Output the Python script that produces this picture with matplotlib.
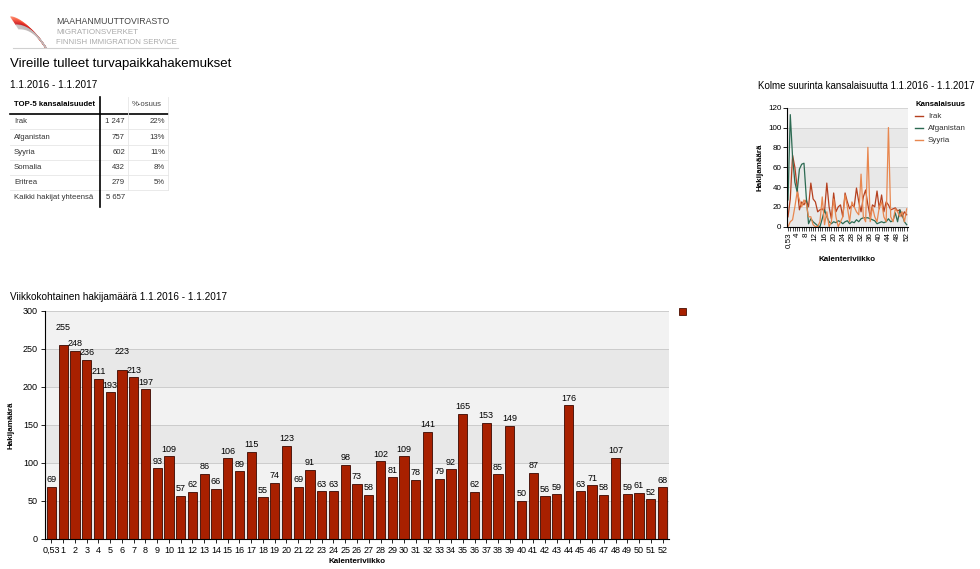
import matplotlib
matplotlib.use("Agg")
import matplotlib.pyplot as plt
from matplotlib.patches import Rectangle
import numpy as np

plt.rcParams['font.family'] = ['Liberation Sans', 'DejaVu Sans']

# ---------------- data ----------------
weeks = ["0,53"] + [str(i) for i in range(1, 53)]
weekly_counts = [69, 255, 248, 236, 211, 193, 223, 213, 197, 93, 109, 57, 62, 86, 66, 106, 89, 115, 55,
                 74, 123, 69, 91, 63, 63, 98, 73, 58, 102, 81, 109, 78, 141, 79, 92, 165, 62, 153, 85,
                 149, 50, 87, 56, 59, 176, 63, 71, 58, 107, 59, 61, 52, 68]

irak = [10, 28, 72, 60, 40, 17, 25, 22, 27, 20, 44, 28, 25, 15, 17, 18, 15, 44, 20, 8, 34, 15, 20, 22, 10,
        34, 25, 18, 22, 20, 39, 25, 15, 30, 37, 22, 10, 22, 20, 36, 18, 32, 15, 25, 22, 17, 18, 19, 16,
        17, 10, 15, 12]
afganistan = [27, 113, 70, 45, 35, 58, 63, 64, 30, 3, 8, 5, 3, 1, 0, 8, 17, 10, 5, 3, 5, 4, 6, 5, 3, 5,
              6, 3, 5, 4, 7, 5, 8, 9, 9, 9, 8, 7, 6, 3, 4, 5, 4, 5, 8, 5, 6, 14, 5, 17, 12, 5, 2]
syyria = [0, 5, 7, 20, 35, 27, 20, 27, 23, 10, 10, 2, 0, 0, 5, 30, 2, 15, 0, 5, 28, 10, 0, 5, 10, 32, 20,
          5, 25, 20, 15, 12, 53, 10, 5, 80, 5, 20, 10, 5, 20, 25, 10, 5, 100, 10, 5, 18, 15, 10, 15, 5, 18]

line_series = ["Irak", "Afganistan", "Syyria"]

table_names = ["Irak", "Afganistan", "Syyria", "Somalia", "Eritrea"]
table_counts = ["1 247", "757", "602", "432", "279"]
table_shares = ["22%", "13%", "11%", "8%", "5%"]
total_label = "Kaikki hakijat yhteensä"
total_count = "5 657"

# ---------------- figure ----------------
W, H = 980, 569
fig = plt.figure(figsize=(W / 100, H / 100), dpi=100)
fig.patch.set_facecolor("white")


def rect(x0, y0, x1, y1):
    return [x0 / W, 1 - y1 / H, (x1 - x0) / W, (y1 - y0) / H]


# overlay axes in pixel coordinates
ov = fig.add_axes([0, 0, 1, 1])
ov.set_xlim(0, W)
ov.set_ylim(H, 0)
ov.axis("off")

# logo: feather-like fan
for k in range(14):
    t = np.linspace(0, 1, 30)
    x0 = 11 + k * 0.6
    xs = x0 + (46 - x0) * t
    ys = 17 + k * 0.9 + (48 - 17 - k * 0.9) * t ** (1.6 + k * 0.05)
    c = plt.cm.Reds(0.45 + 0.04 * k) if k < 9 else (0.75, 0.72, 0.72)
    ov.plot(xs, ys, color=c, lw=0.9, alpha=0.85)
ov.plot([13, 178], [48, 48], color="#d0d0d0", lw=0.8)
ov.text(56, 21, "MAAHANMUUTTOVIRASTO", fontsize=6.3, color="#444444", va="center")
ov.text(56, 32, "MIGRATIONSVERKET", fontsize=5.8, color="#aaaaaa", va="center")
ov.text(56, 42, "FINNISH IMMIGRATION SERVICE", fontsize=5.6, color="#aaaaaa", va="center")

ov.text(10, 64, "Vireille tulleet turvapaikkahakemukset", fontsize=9.5, color="black", va="center")
ov.text(10, 85, "1.1.2016 - 1.1.2017", fontsize=7.2, color="black", va="center")

# table
row_h = 15.2
top = 97
header_y = top + row_h / 2
fs_t = 5.6
ov.text(14, header_y, "TOP-5 kansalaisuudet", fontsize=fs_t, fontweight="bold", va="center")
ov.text(132, header_y, "%-osuus", fontsize=fs_t, color="#444444", va="center")
for i, (n, c, s) in enumerate(zip(table_names, table_counts, table_shares)):
    y = top + row_h * (i + 1) + row_h / 2 + 2
    ov.text(14, y, n, fontsize=fs_t, color="#333333", va="center")
    ov.text(125, y, c, fontsize=fs_t, color="#333333", va="center", ha="right")
    ov.text(165, y, s, fontsize=fs_t, color="#333333", va="center", ha="right")
    ov.plot([10, 168], [top + row_h * (i + 2) + 2, top + row_h * (i + 2) + 2], color="#e6e6e6", lw=0.6)
ty = top + row_h * 6 + row_h / 2 + 2
ov.text(14, ty, total_label, fontsize=fs_t, color="#333333", va="center")
ov.text(125, ty, total_count, fontsize=fs_t, color="#333333", va="center", ha="right")
ov.plot([10, 168], [top + row_h + 2, top + row_h + 2], color="black", lw=1.2)
ov.plot([100, 100], [top, top + row_h * 7 + 4], color="black", lw=1.2)
ov.plot([128, 128], [top, top + row_h * 6 + 2], color="#e6e6e6", lw=0.6)
ov.plot([168, 168], [top, top + row_h * 6 + 2], color="#e6e6e6", lw=0.6)

# titles
ov.text(10, 297, "Viikkokohtainen hakijamäärä 1.1.2016 - 1.1.2017", fontsize=7.2, va="center")
ov.text(758, 86, "Kolme suurinta kansalaisuutta 1.1.2016 - 1.1.2017", fontsize=7.0, va="center")

# bar chart legend square
ov.add_patch(Rectangle((679, 308), 7, 7, facecolor="#a82000", edgecolor="#4a0f00", lw=0.6))

# line chart legend
ov.text(915, 104, "Kansalaisuus", fontsize=5.6, fontweight="bold", va="center")
line_colors = ["#b5401f", "#2c6a52", "#e8874f"]
for i, (name, col) in enumerate(zip(line_series, line_colors)):
    y = 116 + i * 12
    ov.plot([915, 923], [y, y], color=col, lw=1.0)
    ov.text(928, y, name, fontsize=5.8, color="#333333", va="center")

light, dark = "#f2f2f2", "#e8e8e8"

# ---------------- bar chart ----------------
ax = fig.add_axes(rect(45, 311, 669, 539))
x = np.arange(len(weeks))
ax.set_xlim(-0.55, len(weeks) - 0.45)
ax.set_ylim(0, 300)
for j, lo in enumerate(range(0, 300, 50)):
    ax.axhspan(lo, lo + 50, color=dark if j % 2 == 0 else light, zorder=0, lw=0)
for yv in range(50, 301, 50):
    ax.axhline(yv, color="#cccccc", lw=0.7, zorder=1)
ax.bar(x, weekly_counts, width=0.8, color="#a82000", edgecolor="#3a0800", linewidth=0.6, zorder=2)
raised = {1: 11, 6: 11}
px_per_unit = 228 / 300
for i, v in enumerate(weekly_counts):
    off = (7 + raised.get(i, 0)) / px_per_unit
    ax.text(i, v + off, str(v), ha="center", va="center", fontsize=6.5, zorder=3)
ax.set_xticks(x)
ax.set_xticklabels(weeks, fontsize=6.5)
ax.set_yticks(range(0, 301, 50))
ax.tick_params(axis="y", labelsize=6.5, length=3, width=0.6, pad=2)
ax.tick_params(axis="x", length=3, width=0.6, pad=2)
for s in ["top", "right"]:
    ax.spines[s].set_visible(False)
ax.spines["left"].set_linewidth(0.8)
ax.spines["bottom"].set_linewidth(0.8)
ax.set_ylabel("Hakijamäärä", fontsize=5.8, fontweight="bold", labelpad=6)
ax.set_xlabel("Kalenteriviikko", fontsize=5.8, fontweight="bold", labelpad=2.5)

# ---------------- line chart ----------------
lx = fig.add_axes(rect(787, 107.7, 908, 226.7))
lx.set_xlim(-0.44, 52.57)
lx.set_ylim(0, 120)
for j, lo in enumerate(range(0, 120, 20)):
    lx.axhspan(lo, lo + 20, color=dark if j % 2 == 0 else light, zorder=0, lw=0)
for yv in range(20, 121, 20):
    lx.axhline(yv, color="#d0d0d0", lw=0.6, zorder=1)
for data, col in zip([irak, afganistan, syyria], line_colors):
    lx.plot(np.arange(len(weeks)), data, color=col, lw=0.9, zorder=2)
lx.set_yticks(range(0, 121, 20))
lx.set_xticks(range(0, len(weeks), 4))
lx.set_xticklabels([weeks[i] for i in range(0, len(weeks), 4)], rotation=90, fontsize=5.8)
lx.set_xticks(range(len(weeks)), minor=True)
lx.tick_params(axis="y", labelsize=5.8, length=3, width=0.6, pad=1)
lx.tick_params(axis="x", which="both", length=3, width=0.5, pad=1)
for s in ["top", "right"]:
    lx.spines[s].set_visible(False)
lx.spines["left"].set_linewidth(0.8)
lx.spines["bottom"].set_linewidth(0.8)
lx.set_ylabel("Hakijamäärä", fontsize=5.8, fontweight="bold", labelpad=3)
lx.set_xlabel("Kalenteriviikko", fontsize=5.8, fontweight="bold", labelpad=6)

fig.savefig("out.png", dpi=100, facecolor="white")
